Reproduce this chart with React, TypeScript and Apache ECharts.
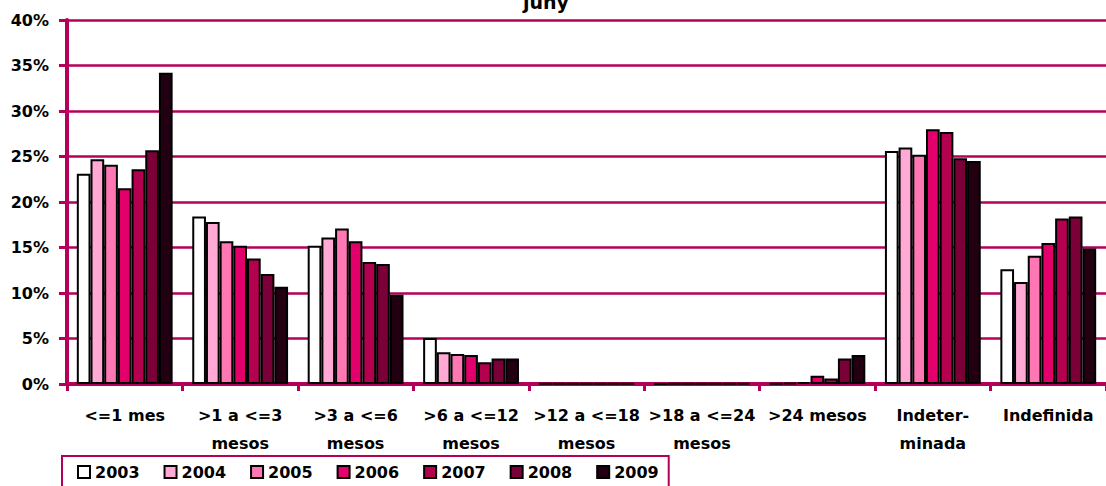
import React, { useEffect, useRef } from "react";
import * as echarts from "echarts";

const categories = [
  "<=1 mes",
  ">1 a <=3\nmesos",
  ">3 a <=6\nmesos",
  ">6 a <=12\nmesos",
  ">12 a <=18\nmesos",
  ">18 a <=24\nmesos",
  ">24 mesos",
  "Indeter-\nminada",
  "Indefinida",
];

const years = ["2003", "2004", "2005", "2006", "2007", "2008", "2009"];

const s2003 = [23.1, 18.4, 15.2, 5.05, 0.03, 0.02, 0.05, 25.6, 12.6];
const s2004 = [24.7, 17.8, 16.1, 3.5, 0.05, 0.03, 0.1, 26.0, 11.2];
const s2005 = [24.1, 15.7, 17.1, 3.3, 0.04, 0.04, 0.2, 25.2, 14.1];
const s2006 = [21.5, 15.2, 15.7, 3.2, 0.06, 0.03, 0.9, 28.0, 15.5];
const s2007 = [23.6, 13.8, 13.4, 2.4, 0.05, 0.05, 0.6, 27.7, 18.2];
const s2008 = [25.7, 12.1, 13.2, 2.8, 0.04, 0.04, 2.8, 24.8, 18.4];
const s2009 = [34.2, 10.7, 9.8, 2.8, 0.03, 0.06, 3.2, 24.5, 14.9];

const seriesValues = [s2003, s2004, s2005, s2006, s2007, s2008, s2009];
const colors = ["#FFFFFF", "#FFA9D4", "#FF78B4", "#E2006B", "#B3004F", "#7B0037", "#220012"];

const yTicks = { min: 0, max: 40, interval: 5 };
const title = "juny";

const FONT = "DejaVu Sans";
const AXIS_COLOR = "#B5005A";

export default function App() {
  const ref = useRef<HTMLDivElement>(null);
  useEffect(() => {
    if (!ref.current) return;
    const chart = echarts.init(ref.current, undefined, { renderer: "svg" });
    chart.setOption({
      animation: false,
      backgroundColor: "#FFFFFF",
      textStyle: { fontFamily: FONT },
      graphic: [
        {
          type: "text",
          x: 546,
          y: 2,
          style: {
            text: title,
            fontFamily: FONT,
            fontWeight: "bold",
            fontSize: 19,
            fill: "#000",
            align: "center",
            verticalAlign: "middle",
          },
        },
      ],
      grid: { left: 67, right: -5, top: 20, bottom: 102, containLabel: false },
      legend: {
        left: 62,
        top: 456,
        orient: "horizontal",
        data: years,
        icon: "rect",
        itemWidth: 12,
        itemHeight: 12,
        itemGap: 24,
        padding: [8, 10, 10, 15],
        borderColor: AXIS_COLOR,
        borderWidth: 2,
        textStyle: { fontFamily: FONT, fontWeight: "bold", fontSize: 16, color: "#000" },
        itemStyle: { borderColor: "#000", borderWidth: 2 },
      },
      xAxis: {
        type: "category",
        data: categories,
        axisLine: { show: true, lineStyle: { color: AXIS_COLOR, width: 4 } },
        axisTick: { show: true, length: 7, lineStyle: { color: AXIS_COLOR, width: 3 } },
        axisLabel: {
          interval: 0,
          margin: 17,
          fontFamily: FONT,
          fontWeight: "bold",
          fontSize: 16,
          lineHeight: 28,
          color: "#000",
        },
        splitLine: { show: false },
      },
      yAxis: {
        type: "value",
        min: yTicks.min,
        max: yTicks.max,
        interval: yTicks.interval,
        axisLine: { show: true, lineStyle: { color: AXIS_COLOR, width: 4 } },
        axisTick: { show: true, length: 8, lineStyle: { color: AXIS_COLOR, width: 3 } },
        axisLabel: {
          margin: 18,
          formatter: "{value}%",
          fontFamily: FONT,
          fontWeight: "bold",
          fontSize: 16,
          color: "#000",
        },
        splitLine: { show: true, lineStyle: { color: AXIS_COLOR, width: 2.5 } },
      },
      series: years.map((y, i) => ({
        name: y,
        type: "bar",
        data: seriesValues[i],
        barGap: "0%",
        barCategoryGap: "17%",
        itemStyle: { color: colors[i], borderColor: "#000", borderWidth: 2 },
      })),
    });
    return () => chart.dispose();
  }, []);
  return (
    <div
      ref={ref}
      style={{ position: "absolute", left: 0, top: 0, width: 1106, height: 486 }}
    />
  );
}
